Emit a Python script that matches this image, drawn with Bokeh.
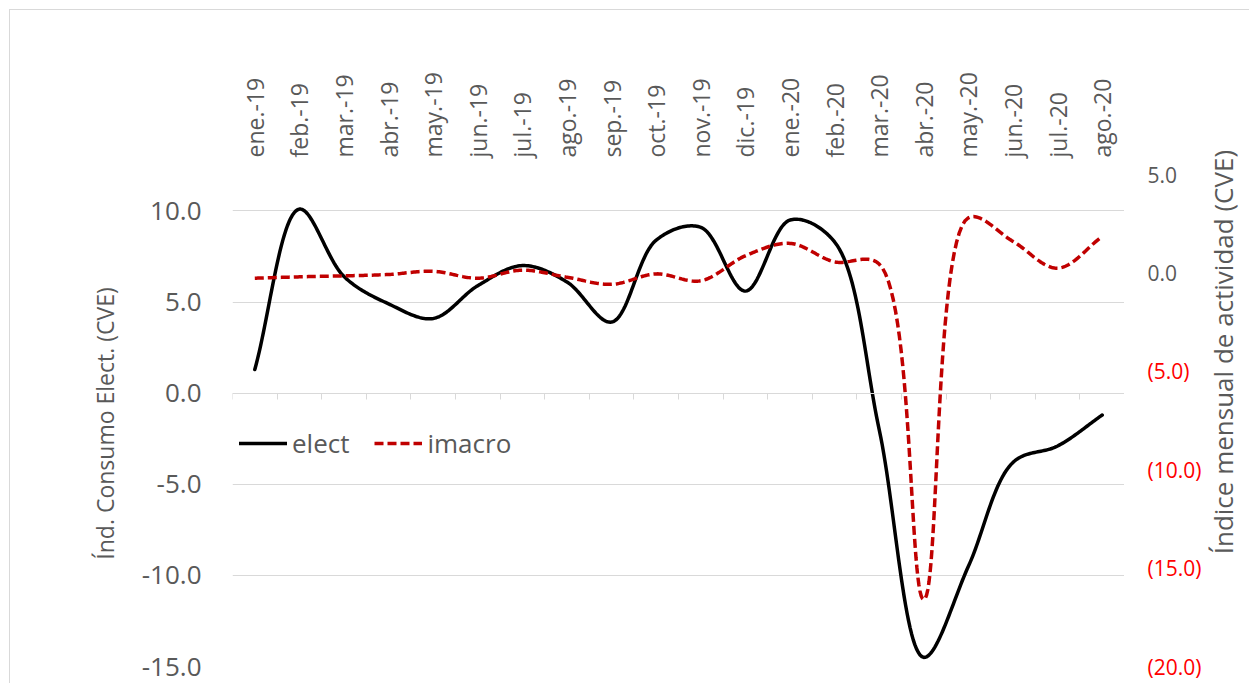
import numpy as np
from bokeh.plotting import figure
from bokeh.layouts import row
from bokeh.models import (Range1d, LinearAxis, FixedTicker, CustomJSTickFormatter, ColumnDataSource,
                          Legend, LegendItem, Grid)
from bokeh.core.properties import value
from bokeh.embed import file_html
from bokeh.resources import INLINE

# ---------------- data ----------------
months = ["ene.-19", "feb.-19", "mar.-19", "abr.-19", "may.-19", "jun.-19", "jul.-19", "ago.-19",
          "sep.-19", "oct.-19", "nov.-19", "dic.-19", "ene.-20", "feb.-20", "mar.-20", "abr.-20",
          "may.-20", "jun.-20", "jul.-20", "ago.-20"]
elect = [1.3, 10.1, 6.4, 4.9, 4.1, 5.9, 7.0, 6.1, 3.9, 8.4, 9.1, 5.6,
         9.5, 8.3, -2.0, -14.5, -9.5, -3.8, -2.9, -1.2]
imacro = [-0.27, -0.2, -0.15, -0.08, 0.08, -0.27, 0.14, -0.22, -0.58, -0.05, -0.4, 0.87,
          1.5, 0.56, 0.45, -16.6, 2.8, 1.6, 0.24, 1.85]
left_ticks = [-15, -10, -5, 0, 5, 10]
right_ticks = [-20, -15, -10, -5, 0, 5]
left_limits = (-15, 12)
right_limits = (-20, 5)
right_title = "Índice mensual de actividad (CVE)"
left_title = "Índ. Consumo  Elect. (CVE)"

TEXT = "#595959"
GRID = "#D9D9D9"
FONT = "Open Sans"
FRAME_W, FRAME_H = 892, 492
TOP, BOTTOM, LEFT = 174, 17, 232
RIGHT_W = 125
n = len(months)


def smooth(xs, ys, sx, sy, steps=30):
    """Centripetal Catmull-Rom curve through the points (computed in pixel space)."""
    P = np.column_stack([np.asarray(xs, float) * sx, np.asarray(ys, float) * sy])
    P = np.vstack([2 * P[0] - P[1], P, 2 * P[-1] - P[-2]])
    out = []
    for i in range(1, len(P) - 2):
        p0, p1, p2, p3 = P[i - 1], P[i], P[i + 1], P[i + 2]
        t0 = 0.0
        t1 = t0 + max(np.linalg.norm(p1 - p0), 1e-6) ** 0.5
        t2 = t1 + max(np.linalg.norm(p2 - p1), 1e-6) ** 0.5
        t3 = t2 + max(np.linalg.norm(p3 - p2), 1e-6) ** 0.5
        last = i == len(P) - 3
        t = np.linspace(t1, t2, steps, endpoint=last)[:, None]
        a1 = (t1 - t) / (t1 - t0) * p0 + (t - t0) / (t1 - t0) * p1
        a2 = (t2 - t) / (t2 - t1) * p1 + (t - t1) / (t2 - t1) * p2
        a3 = (t3 - t) / (t3 - t2) * p2 + (t - t2) / (t3 - t2) * p3
        b1 = (t2 - t) / (t2 - t0) * a1 + (t - t0) / (t2 - t0) * a2
        b2 = (t3 - t) / (t3 - t1) * a2 + (t - t1) / (t3 - t1) * a3
        c = (t2 - t) / (t2 - t1) * b1 + (t - t1) / (t2 - t1) * b2
        out.append(c)
    C = np.vstack(out)
    return C[:, 0] / sx, C[:, 1] / sy


p = figure(frame_width=FRAME_W, frame_height=FRAME_H,
           x_range=Range1d(0, n), y_range=Range1d(*left_limits),
           output_backend="svg", toolbar_location=None,
           x_axis_location=None, y_axis_location=None,
           min_border_left=LEFT, min_border_top=TOP, min_border_right=0, min_border_bottom=BOTTOM)
p.extra_y_ranges = {"right": Range1d(*right_limits)}
p.outline_line_color = None
p.background_fill_color = "white"
p.border_fill_alpha = 0
p.frame_align = False
p.styles = {"box-shadow": "inset 9px 9px 0 0 #ffffff, inset 10px 10px 0 0 #D9D9D9"}
for g in p.grid:
    g.grid_line_color = None

# grid lines (primary axis)
p.add_layout(Grid(dimension=1, ticker=FixedTicker(ticks=left_ticks), grid_line_color=GRID, grid_line_width=1))

# left axis
ly = LinearAxis(ticker=FixedTicker(ticks=left_ticks),
                formatter=CustomJSTickFormatter(code="return tick.toFixed(1)"),
                axis_label=left_title)
ly.axis_line_color = None
ly.major_tick_line_color = None
ly.minor_tick_line_color = None
ly.major_tick_out = 0
ly.major_label_standoff = 31
ly.major_label_text_font = FONT
ly.major_label_text_font_size = "26px"
ly.major_label_text_color = TEXT
ly.axis_label_text_font = FONT
ly.axis_label_text_font_size = "23px"
ly.axis_label_text_font_style = "normal"
ly.axis_label_text_color = TEXT
ly.axis_label_standoff = 18
p.add_layout(ly, "left")

# category labels above
tx = LinearAxis(ticker=FixedTicker(ticks=[i + 0.5 for i in range(n)]),
                formatter=CustomJSTickFormatter(args=dict(labels=months),
                                                code="return labels[Math.floor(tick)]"))
tx.major_label_orientation = "vertical"
tx.axis_line_color = None
tx.major_tick_line_color = None
tx.minor_tick_line_color = None
tx.major_tick_out = 0
tx.major_label_standoff = 17
tx.major_label_text_font = FONT
tx.major_label_text_font_size = "23px"
tx.major_label_text_color = TEXT
p.add_layout(tx, "above")

# horizontal category axis line with tick marks at zero
bx = LinearAxis(ticker=FixedTicker(ticks=list(range(n + 1))), fixed_location=0,
                formatter=CustomJSTickFormatter(code="return ''"))
bx.axis_line_color = GRID
bx.major_tick_line_color = GRID
bx.minor_tick_line_color = None
bx.major_tick_out = 6
bx.major_tick_in = 0
bx.major_label_standoff = 0
bx.major_label_text_font_size = "1px"
p.add_layout(bx, "below")

# series
xs = [i + 0.5 for i in range(n)]
sx = FRAME_W / n
sy_left = FRAME_H / (left_limits[1] - left_limits[0])
sy_right = FRAME_H / (right_limits[1] - right_limits[0])
ex, ey = smooth(xs, elect, sx, sy_left)
rx, ry = smooth(xs, imacro, sx, sy_right)
r1 = p.line(ex, ey, line_color="black", line_width=3.5, line_join="round", line_cap="round")
r2 = p.line(rx, ry, y_range_name="right", line_color="#C00000", line_width=3.5, line_dash="9 4")

legend = Legend(items=[LegendItem(label="elect", renderers=[r1]),
                       LegendItem(label="imacro", renderers=[r2])],
                orientation="horizontal", location=(7, 205))
legend.label_text_font = FONT
legend.label_text_font_size = "26px"
legend.label_text_color = TEXT
legend.glyph_width = 48
legend.glyph_height = 20
legend.label_standoff = 5
legend.spacing = 25
legend.padding = 5
legend.margin = 0
legend.border_line_color = None
legend.background_fill_alpha = 0
p.add_layout(legend)

# ---------- secondary axis panel (right) ----------
total_h = TOP + FRAME_H + BOTTOM
r_lo = right_limits[0] - BOTTOM / sy_right
r_hi = right_limits[1] + TOP / sy_right
p2 = figure(frame_width=RIGHT_W, frame_height=total_h,
            x_range=Range1d(0, RIGHT_W), y_range=Range1d(r_lo, r_hi),
            output_backend="svg", toolbar_location=None,
            x_axis_location=None, y_axis_location=None,
            min_border_left=0, min_border_right=0, min_border_top=0, min_border_bottom=0)
p2.outline_line_color = None
p2.background_fill_alpha = 0
p2.border_fill_alpha = 0
p2.frame_align = False
p2.styles = {"box-shadow": "inset 0 9px 0 0 #ffffff, inset 0 10px 0 0 #D9D9D9"}
for g in p2.grid:
    g.grid_line_color = None

rsrc = ColumnDataSource(dict(
    y=right_ticks,
    text=[("(%.1f)" % abs(v)) if v < 0 else ("%.1f" % v) for v in right_ticks],
    color=["#FF0000" if v < 0 else TEXT for v in right_ticks],
))
p2.text(x=23, y="y", text="text", source=rsrc, text_color="color",
        text_font=value(FONT), text_font_size="21px", text_align="left", text_baseline="middle")
p2.text(x=[98], y=[-14.3], text=[right_title], angle=np.pi / 2,
        text_font=value(FONT), text_font_size="26px", text_color=TEXT,
        text_align="left", text_baseline="middle")

layout = row(p, p2, spacing=0)

open("out.html", "w").write(file_html(layout, INLINE))
